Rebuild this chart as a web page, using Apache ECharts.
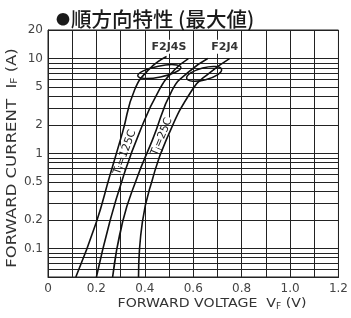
<!DOCTYPE html>
<html>
<head>
<meta charset="utf-8">
<script src="https://cdn.jsdelivr.net/npm/echarts@6/dist/echarts.min.js"></script>
<style>
  html, body { margin: 0; padding: 0; background: #fff; }
  #container { width: 351px; height: 318px; }
</style>
</head>
<body>
<div id="container"></div>
<script>
// 順方向特性 (最大値)
var yLabelValues = [0.1, 0.2, 0.5, 1, 2, 5, 10, 20];
var yGridValues = [0.05, 0.06, 0.07, 0.08, 0.09,
  0.1, 0.2, 0.3, 0.4, 0.5, 0.6, 0.7, 0.8, 0.9,
  1, 2, 3, 4, 5, 6, 7, 8, 9, 10, 20];
// [VF (V), IF (A)]
var f2j4s125 = [[0.115, 0.05], [0.2, 0.19], [0.255, 0.58], [0.308, 1.67], [0.358, 4.7], [0.42, 7.8], [0.49, 10.5]];
var f2j4s25 = [[0.2, 0.05], [0.255, 0.19], [0.308, 0.54], [0.378, 1.67], [0.46, 4.7], [0.52, 7.5], [0.58, 10]];
var f2j4125 = [[0.267, 0.05], [0.308, 0.19], [0.366, 0.54], [0.432, 1.4], [0.514, 4.7], [0.58, 7.2], [0.66, 10]];
var f2j425 = [[0.374, 0.05], [0.39, 0.19], [0.432, 0.54], [0.489, 1.4], [0.596, 4.7], [0.665, 7], [0.75, 10]];

var dom = document.getElementById("container");
var myChart = echarts.init(dom);
var lineColor = '#222';
var font = 'DejaVu Sans';

var curve = function (name, data) {
  return {
    name: name,
    type: 'line',
    data: data,
    smooth: true,
    showSymbol: false,
    symbol: 'none',
    lineStyle: { color: '#111', width: 1.6 },
    z: 5
  };
};

var option = {
  backgroundColor: '#fff',
  animation: false,
  title: {
    text: '{b|●}{t|順方向特性 (最大値)}',
    left: 51,
    top: 4,
    textStyle: {
      fontWeight: 'normal',
      rich: {
        b: { fontFamily: 'Noto Sans CJK JP', fontSize: 14, fontWeight: 'normal', color: '#1a1a1a', padding: [0, 1, 2, 0] },
        t: { fontFamily: 'Noto Sans CJK JP', fontSize: 20.5, fontWeight: 500, color: '#1a1a1a' }
      }
    }
  },
  grid: {
    left: 48,
    right: 11,
    top: 30,
    bottom: 41,
    show: true,
    borderColor: lineColor,
    borderWidth: 1
  },
  xAxis: {
    type: 'value',
    min: 0,
    max: 1.2,
    interval: 0.1,
    axisLine: { lineStyle: { color: lineColor } },
    axisTick: { show: false },
    splitLine: { show: true, lineStyle: { color: lineColor, width: 1 } },
    axisLabel: {
      fontFamily: font,
      fontSize: 12,
      color: '#444',
      margin: 6,
      formatter: function (v) {
        var k = Math.round(v * 10);
        if (k % 2 !== 0) return '';
        return k === 0 ? '0' : v.toFixed(1);
      }
    }
  },
  yAxis: {
    type: 'log',
    logBase: 10,
    min: 0.05,
    max: 20,
    axisLine: { show: true, lineStyle: { color: lineColor } },
    axisTick: { show: false },
    splitLine: { show: false },
    minorSplitLine: { show: false },
    axisLabel: {
      customValues: yLabelValues,
      fontFamily: font,
      fontSize: 12,
      color: '#444',
      margin: 5,
      formatter: function (v) { return String(+v.toPrecision(3)); }
    }
  },
  series: [
    curve('F2J4S 125', f2j4s125),
    curve('F2J4S 25', f2j4s25),
    curve('F2J4 125', f2j4125),
    curve('F2J4 25', f2j425),
    {
      type: 'line',
      data: [],
      z: 2,
      markLine: {
        silent: true,
        symbol: 'none',
        label: { show: false },
        lineStyle: { color: lineColor, width: 1, type: 'solid' },
        data: yGridValues.map(function (v) { return { yAxis: v }; })
      }
    }
  ]
};

myChart.setOption(option, true);

// annotations placed through the chart's own scales
var px = function (v, i) { return myChart.convertToPixel({ gridIndex: 0 }, [v, i]); };
var c1 = px(0.46, 7.3), c2 = px(0.645, 6.9);
var t1 = px(0.318, 1.03), t2 = px(0.47, 1.5);
var l1 = px(0.5, 13.3), l2 = px(0.73, 13.3);
var labelStyle = {
  fontFamily: font, fontSize: 11, fontWeight: 'bold', fill: '#333',
  textAlign: 'center', textVerticalAlign: 'middle'
};
var tjStyle = function (t) {
  return {
    text: '{a|T}{b|j}{a|=' + t + '}',
    rich: {
      a: { fontFamily: font, fontSize: 11, fill: '#222' },
      b: { fontFamily: font, fontSize: 8, fill: '#222', padding: [5, 0, 0, 0] }
    },
    backgroundColor: '#fff',
    padding: [0, 1],
    textAlign: 'center', textVerticalAlign: 'middle'
  };
};
var nameStyle = function (main, sub, tail) {
  return {
    text: '{a|' + main + '}{b|' + sub + '}{a|' + tail + '}',
    rich: {
      a: { fontFamily: font, fontSize: 12.5, fill: '#333' },
      b: { fontFamily: font, fontSize: 8, fill: '#333', padding: [5, 0, 0, 0] }
    },
    textAlign: 'center', textVerticalAlign: 'middle'
  };
};
myChart.setOption({
  graphic: [
    { type: 'ellipse', shape: { cx: c1[0], cy: c1[1], rx: 22, ry: 5.5 }, rotation: 0.2,
      originX: c1[0], originY: c1[1], style: { fill: 'none', stroke: '#111', lineWidth: 1.5 }, z: 10 },
    { type: 'ellipse', shape: { cx: c2[0], cy: c2[1], rx: 18, ry: 6 }, rotation: 0.25,
      originX: c2[0], originY: c2[1], style: { fill: 'none', stroke: '#111', lineWidth: 1.5 }, z: 10 },
    { type: 'rect', shape: { x: l1[0] - 21, y: l1[1] - 7, width: 42, height: 14 }, style: { fill: '#fff' }, z: 11 },
    { type: 'text', x: l1[0], y: l1[1], style: Object.assign({ text: 'F2J4S' }, labelStyle), z: 12 },
    { type: 'rect', shape: { x: l2[0] - 16, y: l2[1] - 7, width: 32, height: 14 }, style: { fill: '#fff' }, z: 11 },
    { type: 'text', x: l2[0], y: l2[1], style: Object.assign({ text: 'F2J4' }, labelStyle), z: 12 },
    { type: 'text', x: t1[0], y: t1[1], rotation: 1.22, style: tjStyle('125C'), z: 3 },
    { type: 'text', x: t2[0], y: t2[1], rotation: 1.18, style: tjStyle('25C'), z: 3 },
    // axis names
    { type: 'text', x: 212, y: 304, scaleX: 1.13, style: nameStyle('FORWARD VOLTAGE  V', 'F', ' (V)'), z: 12 },
    { type: 'text', x: 12, y: 158, rotation: Math.PI / 2, scaleX: 1.32, scaleY: 1.1,
      style: nameStyle('FORWARD CURRENT  I', 'F', ' (A)'), z: 12 }
  ]
});
</script>
</body>
</html>
